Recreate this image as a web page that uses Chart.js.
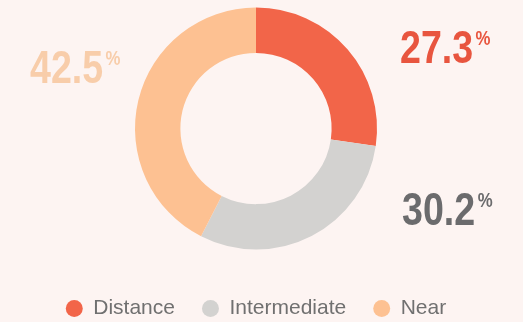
<!DOCTYPE html>
<html><head><meta charset="utf-8">
<script src="https://cdn.jsdelivr.net/npm/chart.js@4/dist/chart.umd.min.js"></script>
<style>
html,body{margin:0;padding:0;background:#fdf4f2;}
#wrap{width:523px;height:322px;position:relative;}
</style></head>
<body><div id="wrap"><canvas id="c" width="523" height="322"></canvas></div>
<script>
const categories = ["Distance", "Intermediate", "Near"];
const values = [27.3, 30.2, 42.5];
const sliceColors = ["#f26549", "#d3d2d0", "#fdc192"];
const labelColors = ["#e8553f", "#6b6b6d", "#f8cdaa"];

const FONT = "'Liberation Sans', Arial, sans-serif";

// lift the plot area a little above the legend's reserved space
const liftArea = {
  id: 'liftArea',
  afterLayout(chart) {
    chart.chartArea.top -= 14;
    chart.chartArea.height += 14;
  }
};

const valueLabels = {
  id: 'valueLabels',
  afterDatasetsDraw(chart) {
    const ctx = chart.ctx;
    const arc = chart.getDatasetMeta(0).data[0];
    const cx = arc.x, cy = arc.y, r = arc.outerRadius;
    // label anchor (left edge, baseline) relative to centre, in units of the outer radius
    const place = [
      [1.19, -0.545],
      [1.207, 0.80],
      [-1.868, -0.38]
    ];
    const sx = 0.8;
    values.forEach((v, i) => {
      const [fx, fy] = place[i];
      const num = v.toFixed(1);
      const x = cx + fx * r, y = cy + fy * r;
      ctx.save();
      ctx.translate(x, y);
      ctx.scale(sx, 1);
      ctx.fillStyle = labelColors[i];
      ctx.textBaseline = 'alphabetic';
      ctx.textAlign = 'left';
      ctx.font = "bold 47px " + FONT;
      const wNum = ctx.measureText(num).width;
      ctx.fillText(num, 0, 0);
      ctx.font = "bold 21px " + FONT;
      ctx.fillText('%', wNum + 3, -18);
      ctx.restore();
    });
  }
};

new Chart(document.getElementById('c'), {
  type: 'doughnut',
  data: {
    labels: categories,
    datasets: [{
      data: values,
      backgroundColor: sliceColors,
      borderWidth: 0,
      hoverOffset: 0,
      radius: 121
    }]
  },
  options: {
    responsive: false,
    animation: false,
    cutout: '62.5%',
    layout: { padding: { top: 0, right: 11, left: 0, bottom: -7 } },
    plugins: {
      tooltip: { enabled: false },
      legend: {
        position: 'bottom',
        labels: {
          usePointStyle: true,
          pointStyle: 'circle',
          boxWidth: 17,
          boxHeight: 12,
          padding: 27,
          color: '#707070',
          font: { family: FONT, size: 21 }
        }
      }
    }
  },
  plugins: [liftArea, valueLabels]
});
</script></body></html>
